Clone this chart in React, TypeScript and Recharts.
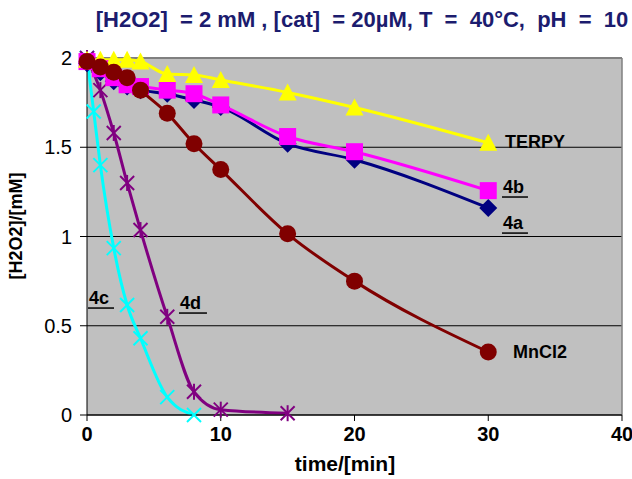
import React from "react";
import { LineChart, Line, XAxis, YAxis, CartesianGrid, ReferenceLine, ReferenceDot } from "recharts";

// time points (min)
const timeMain = [0, 1, 2, 3, 4, 6, 8, 10, 15, 20, 30];
const time4c = [0, 0.5, 1, 2, 3, 4, 6, 8];
const time4d = [0, 1, 2, 3, 4, 6, 8, 10, 15];

// [H2O2] in mM
const terpy = [1.99, 1.99, 1.99, 1.99, 1.98, 1.91, 1.905, 1.877, 1.807, 1.723, 1.525];
const cat4b = [1.98, 1.94, 1.89, 1.85, 1.84, 1.82, 1.8, 1.737, 1.56, 1.475, 1.257];
const cat4a = [1.97, 1.92, 1.87, 1.84, 1.82, 1.8, 1.765, 1.725, 1.52, 1.43, 1.16];
const mncl2 = [1.98, 1.95, 1.92, 1.89, 1.82, 1.69, 1.52, 1.375, 1.015, 0.75, 0.353];
const cat4c = [2.0, 1.7, 1.4, 0.935, 0.616, 0.43, 0.1, 0];
const cat4d = [2.0, 1.82, 1.58, 1.3, 1.036, 0.55, 0.13, 0.03, 0.01];

const xTicks = [0, 10, 20, 30, 40];
const yTicks = [0, 0.5, 1, 1.5, 2];

const rows = (ts: number[], vs: number[]) => ts.map((t, i) => ({ t, v: vs[i] }));

const FONT = "'Liberation Sans', Arial, sans-serif";

const Triangle = ({ cx, cy }: any) => (
  <polygon points={`${cx},${cy - 9} ${cx - 9},${cy + 8} ${cx + 9},${cy + 8}`} fill="#ffff00" />
);
const Square = ({ cx, cy }: any) => <rect x={cx - 8.5} y={cy - 8.5} width={17} height={17} fill="#ff00ff" />;
const Diamond = ({ cx, cy }: any) => (
  <polygon points={`${cx},${cy - 9} ${cx + 9},${cy} ${cx},${cy + 9} ${cx - 9},${cy}`} fill="#000080" />
);
const Circle = ({ cx, cy }: any) => <circle cx={cx} cy={cy} r={8.5} fill="#800000" />;
const Cross = ({ cx, cy }: any) => (
  <g stroke="#00ffff" strokeWidth={2}>
    <line x1={cx - 7} y1={cy - 7} x2={cx + 7} y2={cy + 7} />
    <line x1={cx - 7} y1={cy + 7} x2={cx + 7} y2={cy - 7} />
  </g>
);
const Star = ({ cx, cy }: any) => (
  <g stroke="#800080" strokeWidth={2}>
    <line x1={cx - 7} y1={cy - 7} x2={cx + 7} y2={cy + 7} />
    <line x1={cx - 7} y1={cy + 7} x2={cx + 7} y2={cy - 7} />
    <line x1={cx} y1={cy - 8} x2={cx} y2={cy + 8} />
  </g>
);

const dotOf = (Shape: any) => (p: any) => <Shape key={p.index} cx={p.cx} cy={p.cy} />;

const tag = (text: string, line?: number) => (p: any) => (
  <g>
    <text x={p.cx} y={p.cy} dy="0.35em" fontSize={18} fontWeight="bold" fill="#000" fontFamily={FONT}>
      {text}
    </text>
    {line ? <line x1={p.cx - 1} x2={p.cx + line} y1={p.cy + 10.5} y2={p.cy + 10.5} stroke="#000" strokeWidth={1.5} /> : null}
  </g>
);

export default function App() {
  return (
    <div style={{ position: "relative", width: 632, height: 479, fontFamily: FONT }}>
      <style>{`body{margin:0}`}</style>
      <LineChart width={632} height={479} margin={{ top: 58, right: 10, bottom: 34, left: 0 }}>
        <CartesianGrid vertical={false} fill="#c0c0c0" stroke="#000" />
        <XAxis
          type="number"
          dataKey="t"
          domain={[0, 40]}
          ticks={xTicks}
          height={30}
          tickSize={6}
          tickMargin={6}
          tick={{ fontSize: 20, fontWeight: "bold", fill: "#000", fontFamily: FONT }}
          axisLine={{ stroke: "#000" }}
          tickLine={{ stroke: "#000" }}
        />
        <YAxis
          type="number"
          domain={[0, 2]}
          ticks={yTicks}
          width={87}
          tickSize={7}
          tickMargin={8}
          tick={{ fontSize: 20, fill: "#000", fontFamily: FONT }}
          axisLine={{ stroke: "#000" }}
          tickLine={{ stroke: "#000" }}
        />
        <ReferenceLine y={2} stroke="#808080" strokeWidth={2} />
        <ReferenceLine x={40} stroke="#808080" strokeWidth={1.5} />
        <Line data={rows(time4c, cat4c)} dataKey="v" type="monotone" stroke="#00ffff" strokeWidth={3} dot={dotOf(Cross)} activeDot={false} isAnimationActive={false} />
        <Line data={rows(time4d, cat4d)} dataKey="v" type="monotone" stroke="#800080" strokeWidth={3} dot={dotOf(Star)} activeDot={false} isAnimationActive={false} />
        <Line data={rows(timeMain, cat4a)} dataKey="v" type="monotone" stroke="#000080" strokeWidth={3} dot={dotOf(Diamond)} activeDot={false} isAnimationActive={false} />
        <Line data={rows(timeMain, cat4b)} dataKey="v" type="monotone" stroke="#ff00ff" strokeWidth={3} dot={dotOf(Square)} activeDot={false} isAnimationActive={false} />
        <Line data={rows(timeMain, terpy)} dataKey="v" type="monotone" stroke="#ffff00" strokeWidth={3} dot={dotOf(Triangle)} activeDot={false} isAnimationActive={false} />
        <Line data={rows(timeMain, mncl2)} dataKey="v" type="monotone" stroke="#800000" strokeWidth={3} dot={dotOf(Circle)} activeDot={false} isAnimationActive={false} />
        <ReferenceDot x={31.25} y={1.53} r={0} ifOverflow="visible" shape={tag("TERPY")} />
        <ReferenceDot x={31.1} y={1.28} r={0} ifOverflow="visible" shape={tag("4b", 25)} />
        <ReferenceDot x={31.1} y={1.078} r={0} ifOverflow="visible" shape={tag("4a", 25)} />
        <ReferenceDot x={31.85} y={0.353} r={0} ifOverflow="visible" shape={tag("MnCl2")} />
        <ReferenceDot x={0.15} y={0.658} r={0} ifOverflow="visible" shape={tag("4c", 25)} />
        <ReferenceDot x={6.95} y={0.63} r={0} ifOverflow="visible" shape={tag("4d", 27)} />
      </LineChart>
      <svg width={632} height={479} style={{ position: "absolute", left: 0, top: 0, pointerEvents: "none" }}>
        <text x={362} y={19} dy="0.35em" textAnchor="middle" fontSize={22} fontWeight="bold" fill="#1c1c6e" fontFamily={FONT} style={{ whiteSpace: "pre" }}>
          {"[H2O2]  = 2 mM , [cat]  = 20µM, T  =  40°C,  pH  =  10"}
        </text>
        <text x={16} y={226} dy="0.35em" textAnchor="middle" transform="rotate(-90 16 226)" fontSize={18} fontWeight="bold" fill="#000" fontFamily={FONT}>
          [H2O2]/[mM]
        </text>
        <text x={345} y={464} dy="0.35em" textAnchor="middle" fontSize={21} fontWeight="bold" fill="#000" fontFamily={FONT}>
          time/[min]
        </text>
      </svg>
    </div>
  );
}
